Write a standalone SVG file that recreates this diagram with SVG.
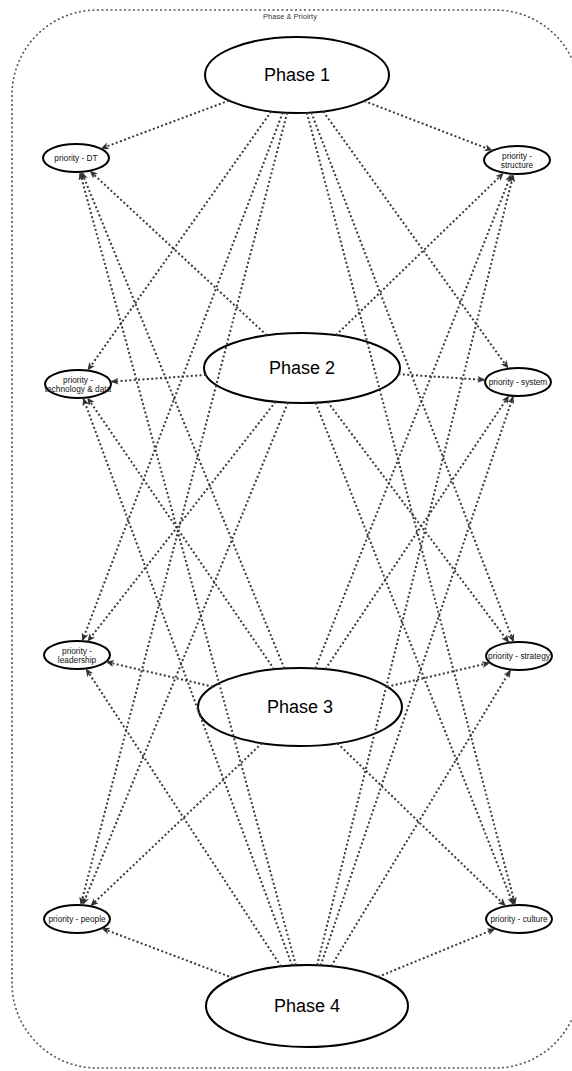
<svg xmlns="http://www.w3.org/2000/svg" width="572" height="1071" viewBox="0 0 572 1071">
  <style>
    .frame { fill: none; stroke: #555; stroke-width: 1.6; stroke-dasharray: 2 2.5; }
    .title { font-family: "Comic Sans MS", "Liberation Sans", sans-serif; font-size: 7.5px; fill: #333; text-anchor: middle; }
    .phase ellipse { fill: #fff; stroke: #000; stroke-width: 2; }
    .phase text { font-family: "Comic Sans MS", "Liberation Sans", sans-serif; font-size: 18px; fill: #000; text-anchor: middle; dominant-baseline: central; }
    .prio ellipse { fill: #fff; stroke: #000; stroke-width: 2; }
    .prio text { font-family: "Comic Sans MS", "Liberation Sans", sans-serif; font-size: 8.3px; fill: #111; text-anchor: middle; dominant-baseline: central; }
    .edges line { stroke: #3a3a3a; stroke-width: 2; stroke-dasharray: 2 2.4; marker-end: url(#arrow); }
  </style>
  <defs>
    <marker id="arrow" markerUnits="userSpaceOnUse" markerWidth="9" markerHeight="8" refX="8" refY="3.5" orient="auto" viewBox="0 0 9 8">
      <path d="M0,0 L8,3.5 L0,7 L2,3.5 Z" fill="#333"/>
    </marker>
  </defs>

  <!-- container -->
  <g id="container">
    <rect class="frame" x="12" y="10" width="568" height="1058" rx="85" ry="85"/>
    <text class="title" x="290" y="19">Phase &amp; Prioirty</text>
  </g>

  <!-- phases -->
  <g id="phase1" class="phase">
    <ellipse cx="297" cy="75" rx="92" ry="38"/>
    <text x="297" y="75">Phase 1</text>
  </g>
  <g id="phase2" class="phase">
    <ellipse cx="302" cy="368" rx="98" ry="35"/>
    <text x="302" y="368">Phase 2</text>
  </g>
  <g id="phase3" class="phase">
    <ellipse cx="300" cy="707" rx="102" ry="39"/>
    <text x="300" y="707">Phase 3</text>
  </g>
  <g id="phase4" class="phase">
    <ellipse cx="307" cy="1006" rx="101" ry="41"/>
    <text x="307" y="1006">Phase 4</text>
  </g>

  <!-- priorities -->
  <g id="priority-dt" class="prio">
    <ellipse cx="76" cy="158" rx="33" ry="14"/>
    <text x="76" y="158">priority - DT</text>
  </g>
  <g id="priority-technology" class="prio">
    <ellipse cx="78" cy="384" rx="33" ry="14"/>
    <text x="78" y="379.5">priority -</text>
    <text x="78" y="389">technology &amp; data</text>
  </g>
  <g id="priority-leadership" class="prio">
    <ellipse cx="77" cy="655" rx="33" ry="14"/>
    <text x="77" y="650.5">priority -</text>
    <text x="77" y="660">leadership</text>
  </g>
  <g id="priority-people" class="prio">
    <ellipse cx="77" cy="919" rx="33" ry="14"/>
    <text x="77" y="919">priority - people</text>
  </g>
  <g id="priority-structure" class="prio">
    <ellipse cx="517" cy="160" rx="33" ry="14"/>
    <text x="517" y="155.5">priority -</text>
    <text x="517" y="165">structure</text>
  </g>
  <g id="priority-system" class="prio">
    <ellipse cx="518" cy="382" rx="33" ry="14"/>
    <text x="518" y="382">priority - system</text>
  </g>
  <g id="priority-strategy" class="prio">
    <ellipse cx="519" cy="656" rx="33" ry="14"/>
    <text x="519" y="656">priority - strategy</text>
  </g>
  <g id="priority-culture" class="prio">
    <ellipse cx="519" cy="919" rx="33" ry="14"/>
    <text x="519" y="919">priority - culture</text>
  </g>

  <!-- connectors: every phase points at every priority -->
  <g id="connectors" class="edges">
    <line x1="228.9" y1="100.6" x2="100.7" y2="148.7"/>
    <line x1="271.2" y1="111.5" x2="87.5" y2="370.6"/>
    <line x1="282.8" y1="112.5" x2="82.2" y2="641.2"/>
    <line x1="287.2" y1="112.8" x2="80.6" y2="905.1"/>
    <line x1="364.2" y1="101.0" x2="492.6" y2="150.6"/>
    <line x1="323.2" y1="111.4" x2="508.4" y2="368.6"/>
    <line x1="311.3" y1="112.5" x2="513.7" y2="642.2"/>
    <line x1="306.9" y1="112.8" x2="515.3" y2="905.1"/>

    <line x1="266.8" y1="335.3" x2="89.7" y2="170.7"/>
    <line x1="205.9" y1="374.9" x2="110.5" y2="381.7"/>
    <line x1="275.6" y1="401.7" x2="87.4" y2="641.7"/>
    <line x1="287.9" y1="402.6" x2="82.6" y2="905.2"/>
    <line x1="335.9" y1="335.2" x2="503.7" y2="172.8"/>
    <line x1="398.4" y1="374.2" x2="485.4" y2="379.9"/>
    <line x1="327.5" y1="401.8" x2="509.0" y2="642.7"/>
    <line x1="315.6" y1="402.7" x2="513.6" y2="905.2"/>

    <line x1="284.3" y1="668.5" x2="81.6" y2="171.8"/>
    <line x1="274.1" y1="669.3" x2="87.2" y2="397.4"/>
    <line x1="212.9" y1="686.7" x2="105.9" y2="661.7"/>
    <line x1="261.9" y1="743.2" x2="90.4" y2="906.2"/>
    <line x1="315.3" y1="668.4" x2="511.5" y2="173.8"/>
    <line x1="325.3" y1="669.2" x2="509.0" y2="395.5"/>
    <line x1="387.1" y1="686.7" x2="490.1" y2="662.7"/>
    <line x1="337.5" y1="743.3" x2="505.8" y2="906.2"/>

    <line x1="295.9" y1="965.3" x2="79.8" y2="171.9"/>
    <line x1="292.1" y1="965.5" x2="83.1" y2="397.8"/>
    <line x1="281.0" y1="966.4" x2="85.8" y2="668.5"/>
    <line x1="233.1" y1="978.0" x2="101.6" y2="928.3"/>
    <line x1="317.1" y1="965.2" x2="513.5" y2="173.9"/>
    <line x1="320.7" y1="965.4" x2="513.3" y2="395.9"/>
    <line x1="331.1" y1="966.2" x2="510.8" y2="669.6"/>
    <line x1="378.0" y1="976.9" x2="495.3" y2="928.7"/>
  </g>
</svg>
